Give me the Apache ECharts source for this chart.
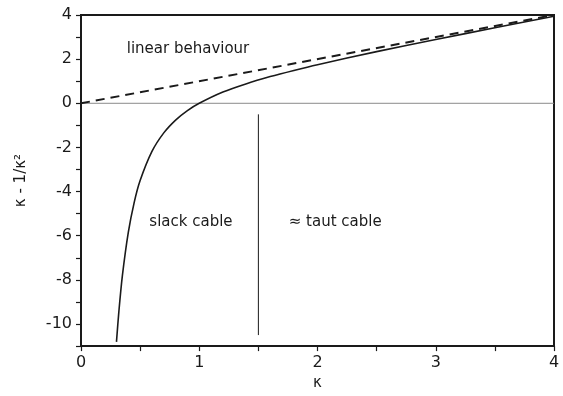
<!DOCTYPE html>
<html>
<head>
<meta charset="utf-8">
<script src="https://cdn.jsdelivr.net/npm/echarts@6/dist/echarts.min.js"></script>
<style>
  html, body { margin: 0; padding: 0; background: #fff; }
  #chart { width: 563px; height: 396px; }
</style>
</head>
<body>
<div id="chart"></div>
<script>
// Cable stiffness relation: kappa - 1/kappa^2 against kappa
const kappa = [0.30, 0.32, 0.35, 0.40, 0.45, 0.50, 0.60, 0.70, 0.80, 0.90, 1.00, 1.20, 1.40, 1.60, 1.80, 2.00, 2.50, 3.00, 3.50, 4.00];
const response = [-10.81, -9.45, -7.81, -5.85, -4.49, -3.50, -2.18, -1.34, -0.76, -0.33, 0.00, 0.51, 0.89, 1.21, 1.49, 1.75, 2.34, 2.89, 3.42, 3.94];
const linearX = [0, 4];
const linearY = [0, 4];
const zeroX = [0, 4];
const zeroY = [0, 0];
const dividerX = [1.5, 1.5];
const dividerY = [-0.5, -10.5];
const notes = [
  { text: 'linear behaviour', x: 0.905, y: 2.44 },
  { text: 'slack cable', x: 0.93, y: -5.4 },
  { text: '\u2248 taut cable', x: 2.15, y: -5.4 }
];

const font = 'DejaVu Sans';
const ink = '#1a1a1a';
const zip = (xs, ys) => xs.map((x, i) => [x, ys[i]]);

const chart = echarts.init(document.getElementById('chart'), null, { renderer: 'canvas' });
chart.setOption({
  animation: false,
  backgroundColor: '#fff',
  grid: {
    left: 81, top: 15, right: 9, bottom: 44,
    show: true, borderColor: ink, borderWidth: 2, backgroundColor: 'transparent'
  },
  xAxis: {
    type: 'value', min: 0, max: 4, interval: 0.5,
    name: '\u03ba', nameLocation: 'middle', nameGap: 26,
    nameTextStyle: { fontFamily: font, fontSize: 15, color: ink },
    axisLine: { onZero: false, lineStyle: { color: ink, width: 2 } },
    axisTick: { show: true, length: 5, lineStyle: { color: ink, width: 1.2 } },
    axisLabel: {
      fontFamily: font, fontSize: 16, color: ink, margin: 9,
      formatter: v => (Number.isInteger(v) ? String(v) : '')
    },
    splitLine: { show: false }
  },
  yAxis: {
    type: 'value', min: -11, max: 4, interval: 1,
    name: '\u03ba - 1/\u03ba\u00b2', nameLocation: 'middle', nameGap: 52,
    nameTextStyle: { fontFamily: font, fontSize: 15, color: ink },
    axisLine: { onZero: false, lineStyle: { color: ink, width: 2 } },
    axisTick: { show: true, length: 5, lineStyle: { color: ink, width: 1.2 } },
    axisLabel: {
      fontFamily: font, fontSize: 16, color: ink, margin: 9,
      formatter: v => (v % 2 === 0 ? String(v) : '')
    },
    splitLine: { show: false }
  },
  series: [
    {
      type: 'line', data: zip(zeroX, zeroY), symbol: 'none', z: 1,
      lineStyle: { color: '#8a8a8a', width: 1 }
    },
    {
      type: 'line', data: zip(dividerX, dividerY), symbol: 'none',
      lineStyle: { color: ink, width: 1 }
    },
    {
      type: 'line', data: zip(linearX, linearY), symbol: 'none',
      lineStyle: { color: ink, width: 2, type: [9, 6] }
    },
    {
      type: 'line', data: zip(kappa, response), symbol: 'none', smooth: 0.3,
      lineStyle: { color: ink, width: 1.6 }
    },
    {
      type: 'scatter', symbolSize: 0, silent: true,
      itemStyle: { color: ink, opacity: 1 },
      data: notes.map(n => ({ value: [n.x, n.y], name: n.text })),
      label: {
        show: true, position: 'inside', formatter: p => p.name,
        fontFamily: font, fontSize: 15, color: ink,
        textBorderWidth: 0, textBorderColor: 'transparent'
      }
    }
  ]
});
</script>
</body>
</html>
